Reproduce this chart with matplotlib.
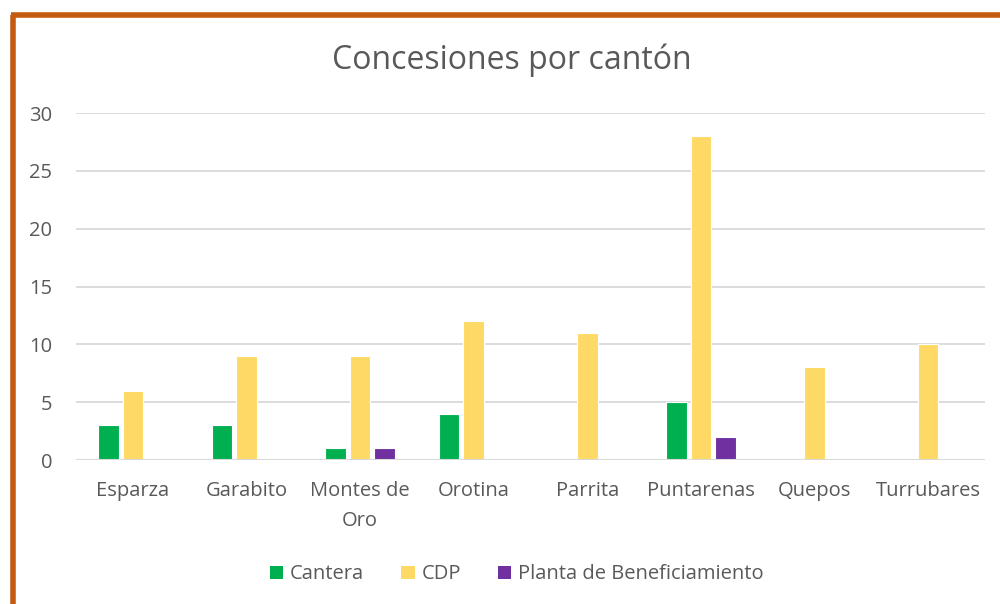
import matplotlib
matplotlib.use("Agg")
import matplotlib.pyplot as plt
import numpy as np
from matplotlib.patches import Patch
from matplotlib.lines import Line2D

categories = ["Esparza", "Garabito", "Montes de\nOro", "Orotina", "Parrita",
              "Puntarenas", "Quepos", "Turrubares"]
cantera = [3, 3, 1, 4, 0, 5, 0, 0]
cdp = [6, 9, 9, 12, 11, 28, 8, 10]
planta = [0, 0, 1, 0, 0, 2, 0, 0]
series_names = ["Cantera", "CDP", "Planta de Beneficiamiento"]
colors = ["#00B050", "#FFD966", "#7030A0"]
yticks = [0, 5, 10, 15, 20, 25, 30]
title = "Concesiones por cantón"

plt.rcParams['font.family'] = ['Open Sans', 'DejaVu Sans']
txt = "#595959"

fig = plt.figure(figsize=(10, 6.04), dpi=100)
ax = fig.add_axes([0.076, 0.2384, 0.909, 0.5745])

x = np.arange(len(categories))
step = 0.215
w = 0.18
for i, (vals, c) in enumerate(zip([cantera, cdp, planta], colors)):
    ax.bar(x + (i - 1) * step, vals, width=w, color=c, edgecolor="white",
           linewidth=0.8, zorder=3)

ax.set_xlim(-0.5, len(categories) - 0.5)
ax.set_ylim(0, 30)
ax.set_yticks(yticks)
ax.set_yticklabels([str(v) for v in yticks], fontsize=14.5, color=txt)
ax.set_xticks(x)
ax.set_xticklabels(categories, fontsize=14.5, color=txt, linespacing=1.65)
ax.tick_params(axis='both', length=0)
ax.tick_params(axis='x', pad=15)
ax.tick_params(axis='y', pad=17)
ax.grid(axis='y', color="#D9D9D9", linewidth=1.3, zorder=0)
for s in ax.spines.values():
    s.set_visible(False)
ax.axhline(0, color="#D9D9D9", linewidth=1.5, zorder=4)

fig.text(0.512, 0.90, title, fontsize=23, color=txt, ha="center", va="center")

handles = [Patch(facecolor=c, edgecolor="none") for c in colors]
fig.legend(handles, series_names, loc="center", bbox_to_anchor=(0.517, 0.049),
           ncol=3, frameon=False, fontsize=14.5, labelcolor=txt,
           handlelength=0.65, handleheight=0.65, handletextpad=0.35, columnspacing=1.85)

# orange border (left and top)
fig.add_artist(Line2D([0.0125, 0.0125], [0, 0.975], transform=fig.transFigure,
                      color="#C55A11", linewidth=4, solid_capstyle="butt"))
fig.add_artist(Line2D([0.0105, 1.0], [0.9755, 0.9755], transform=fig.transFigure,
                      color="#C55A11", linewidth=4, solid_capstyle="butt"))

fig.savefig("out.png", dpi=100, facecolor="white")
